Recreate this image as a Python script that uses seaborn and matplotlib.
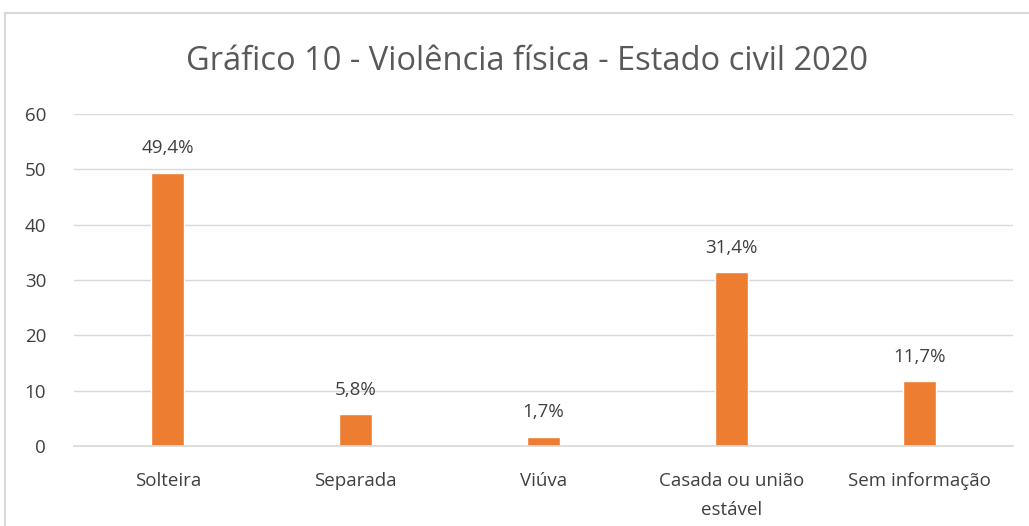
import matplotlib
matplotlib.use("Agg")
import matplotlib.pyplot as plt
import seaborn as sns
import pandas as pd
from matplotlib.patches import Rectangle

categories = ["Solteira", "Separada", "Viúva", "Casada ou união\nestável", "Sem informação"]
values = [49.4, 5.8, 1.7, 31.4, 11.7]
labels = ["49,4%", "5,8%", "1,7%", "31,4%", "11,7%"]
yticks = [0, 10, 20, 30, 40, 50, 60]

sns.set_theme(style="white")
plt.rcParams['font.family'] = ['Open Sans', 'DejaVu Sans']

fig = plt.figure(figsize=(10.29, 5.26), dpi=100)
ax = fig.add_axes([74/1029, 1 - 446/526, (1013-74)/1029, (446-114)/526])

df = pd.DataFrame({"cat": categories, "val": values})
sns.barplot(data=df, x="cat", y="val", color="#ED7D31", width=0.175, ax=ax, saturation=1)

ax.set_ylim(0, 60)
ax.set_yticks(yticks)
ax.yaxis.grid(True, color="#d9d9d9", linewidth=1)
ax.set_axisbelow(True)
for s in ["top", "right", "left"]:
    ax.spines[s].set_visible(False)
ax.spines["bottom"].set_color("#d9d9d9")
ax.set_xlabel("")
ax.set_ylabel("")
ax.tick_params(axis="both", length=0, labelsize=13.5, colors="#404040")
ax.tick_params(axis="y", pad=20)
ax.tick_params(axis="x", pad=19)
for lab in ax.get_xticklabels():
    lab.set_linespacing(1.75)

for i, (v, t) in enumerate(zip(values, labels)):
    ax.annotate(t, (i, v), xytext=(0, 11), textcoords="offset points",
                ha="center", va="bottom", fontsize=13.5, color="#404040")

fig.text(527/1029, 1 - 62/526, "Gráfico 10 - Violência física - Estado civil 2020",
         ha="center", va="center", fontsize=23.5, color="#595959")

fig.patches.append(Rectangle((5/1029, -0.1), 1.2, 1 - 13/526 + 0.1, transform=fig.transFigure,
                             fill=False, edgecolor="#d9d9d9", linewidth=1.5))

fig.savefig("out.png", dpi=100)
